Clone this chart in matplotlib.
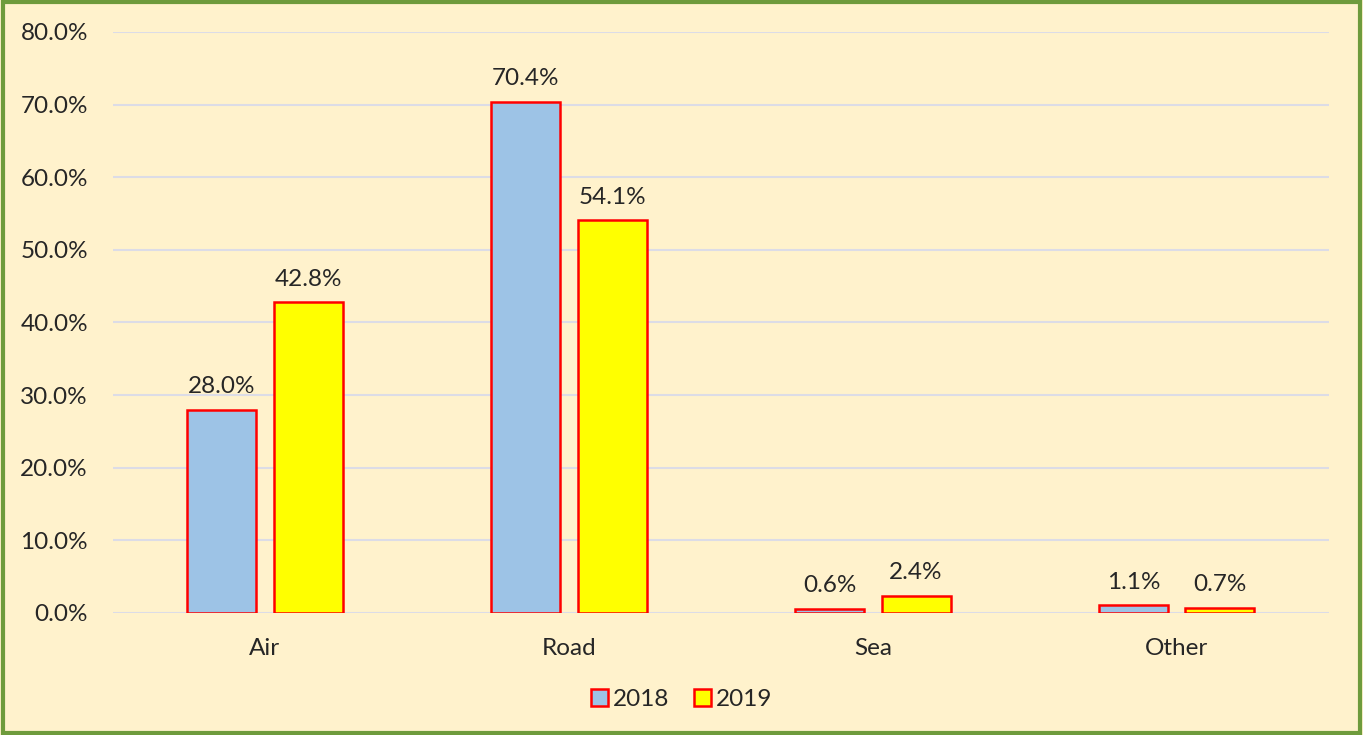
import matplotlib
matplotlib.use("Agg")
import matplotlib.pyplot as plt
import numpy as np
from matplotlib.patches import Rectangle

categories = ["Air", "Road", "Sea", "Other"]
series_names = ["2018", "2019"]
values_2018 = [28.0, 70.4, 0.6, 1.1]
values_2019 = [42.8, 54.1, 2.4, 0.7]
yticks = [0, 10, 20, 30, 40, 50, 60, 70, 80]

bg = "#FFF2CC"
txt = "#262626"
plt.rcParams['font.family'] = ['Lato', 'DejaVu Sans']
fs = 17.5

fig = plt.figure(figsize=(13.63, 7.35), dpi=100, facecolor=bg)
ax = fig.add_axes([0.0829, 0.166, 0.892, 0.7905])
ax.set_facecolor(bg)

x = np.arange(len(categories))
w = 0.227
off = 0.142
colors = ["#9DC3E6", "#FFFF00"]
for vals, o, c, n in [(values_2018, -off, colors[0], series_names[0]),
                      (values_2019, off, colors[1], series_names[1])]:
    bars = ax.bar(x + o, vals, width=w, color=c, edgecolor="#FF0000", linewidth=1.8, label=n, zorder=3)
    for b, v in zip(bars, vals):
        ax.annotate(f"{v:.1f}%", (b.get_x() + b.get_width() / 2, v), xytext=(0, 9),
                    textcoords="offset points", ha="center", va="bottom",
                    fontsize=fs, color=txt)

ax.set_xlim(-0.5, len(categories) - 0.5)
ax.set_ylim(0, 80)
ax.set_yticks(yticks)
ax.set_yticklabels([f"{t:.1f}%" for t in yticks], fontsize=fs, color=txt)
ax.set_xticks(x)
ax.set_xticklabels(categories, fontsize=fs, color=txt)
ax.tick_params(axis="both", length=0)
ax.tick_params(axis="y", pad=18)
ax.tick_params(axis="x", pad=18)
ax.grid(axis="y", color="#DCDCE6", linewidth=1.5, zorder=0)
for s in ax.spines.values():
    s.set_visible(False)

leg = fig.legend(loc="center", bbox_to_anchor=(0.5, 0.048), ncol=2, frameon=False,
                 fontsize=fs, handlelength=0.7, handleheight=0.7, handletextpad=0.2,
                 columnspacing=1.0)
for t in leg.get_texts():
    t.set_color(txt)

fig.patches.append(Rectangle((0.002, 0.003), 0.996, 0.994, transform=fig.transFigure,
                             fill=False, edgecolor="#6E9B3C", linewidth=3))

fig.savefig("out.png", dpi=100, facecolor=bg)
